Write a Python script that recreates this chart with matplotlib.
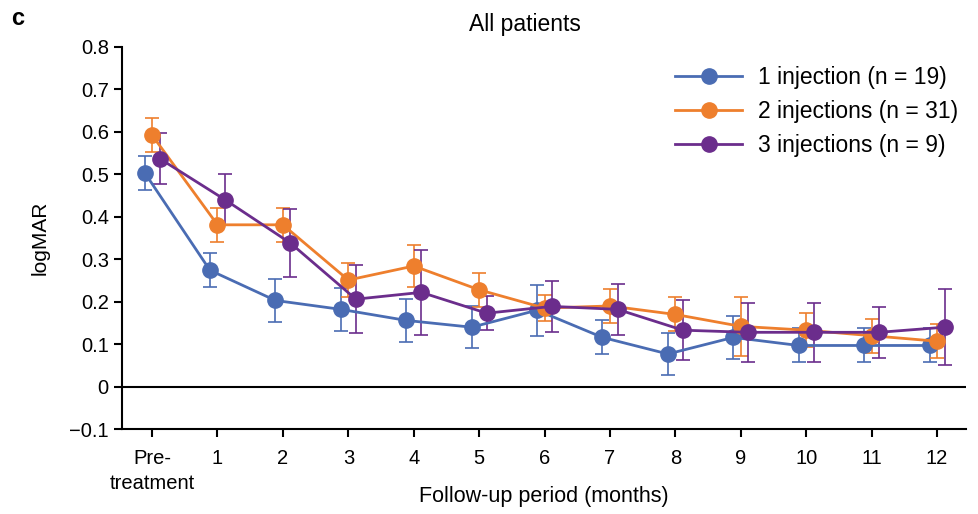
import numpy as np
import matplotlib
matplotlib.use('Agg')
import matplotlib.pyplot as plt
from matplotlib.lines import Line2D

plt.rcParams['font.family'] = ['Liberation Sans', 'DejaVu Sans']

# x categories
months = ['Pre-\ntreatment', '1', '2', '3', '4', '5', '6', '7', '8', '9', '10', '11', '12']

# 1 injection (n = 19)
one_mean = [0.504, 0.274, 0.203, 0.182, 0.156, 0.140, 0.180, 0.116, 0.077, 0.116, 0.097, 0.097, 0.097]
one_err = [0.04, 0.04, 0.05, 0.05, 0.05, 0.05, 0.06, 0.04, 0.05, 0.05, 0.04, 0.04, 0.04]

# 2 injections (n = 31)
two_mean = [0.592, 0.381, 0.381, 0.251, 0.284, 0.228, 0.185, 0.190, 0.170, 0.142, 0.133, 0.120, 0.107]
two_err = [0.04, 0.04, 0.04, 0.04, 0.05, 0.04, 0.03, 0.04, 0.04, 0.07, 0.04, 0.04, 0.04]

# 3 injections (n = 9)
three_mean = [0.537, 0.440, 0.338, 0.206, 0.222, 0.173, 0.189, 0.182, 0.133, 0.128, 0.128, 0.128, 0.140]
three_err = [0.06, 0.06, 0.08, 0.08, 0.10, 0.04, 0.06, 0.06, 0.07, 0.07, 0.07, 0.06, 0.09]

series = [
    ('1 injection (n = 19)', one_mean, one_err, '#4a6cb3', -0.115),
    ('2 injections (n = 31)', two_mean, two_err, '#ee7f2d', 0.0),
    ('3 injections (n = 9)', three_mean, three_err, '#6b2d8c', 0.115),
]

fig = plt.figure(figsize=(9.79, 5.14), dpi=100)
ax = fig.add_axes([0.1246, 0.165, 0.862, 0.744])

x = np.arange(len(months))
handles = []
for label, mean, err, color, off in series:
    ax.errorbar(x + off, mean, yerr=err, color=color, ecolor=color,
                elinewidth=1.2, capsize=5, capthick=1.2, lw=2,
                marker='o', ms=11)
    handles.append(Line2D([], [], color=color, lw=2, marker='o', ms=11, label=label))

ax.axhline(0, color='black', lw=1.5, zorder=0)

ax.set_xlim(-0.46, 12.44)
ax.set_ylim(-0.1, 0.8)
ax.set_yticks(np.arange(-0.1, 0.81, 0.1))
ax.set_yticklabels(['\u22120.1', '0', '0.1', '0.2', '0.3', '0.4', '0.5', '0.6', '0.7', '0.8'])
ax.set_xticks(x)
ax.set_xticklabels(months, linespacing=1.4)

for s in ['top', 'right']:
    ax.spines[s].set_visible(False)
for s in ['left', 'bottom']:
    ax.spines[s].set_linewidth(1.5)
ax.tick_params(axis='both', labelsize=14.5, width=1.5, length=6, direction='out')
ax.tick_params(axis='x', pad=8)

ax.set_ylabel('logMAR', fontsize=15, labelpad=14)
ax.set_xlabel('Follow-up period (months)', fontsize=15.5, va='center')
ax.xaxis.set_label_coords(0.5, -0.175)
ax.set_title('All patients', fontsize=16.5, x=0.477, pad=11)
fig.text(0.011, 0.952, 'c', fontsize=17, fontweight='bold')

ax.legend(handles=handles, loc='upper right', fontsize=16.5, frameon=False,
          handlelength=2.9, handletextpad=0.7, labelspacing=0.48,
          bbox_to_anchor=(1.015, 1.003))

plt.savefig('out.png', dpi=100)
